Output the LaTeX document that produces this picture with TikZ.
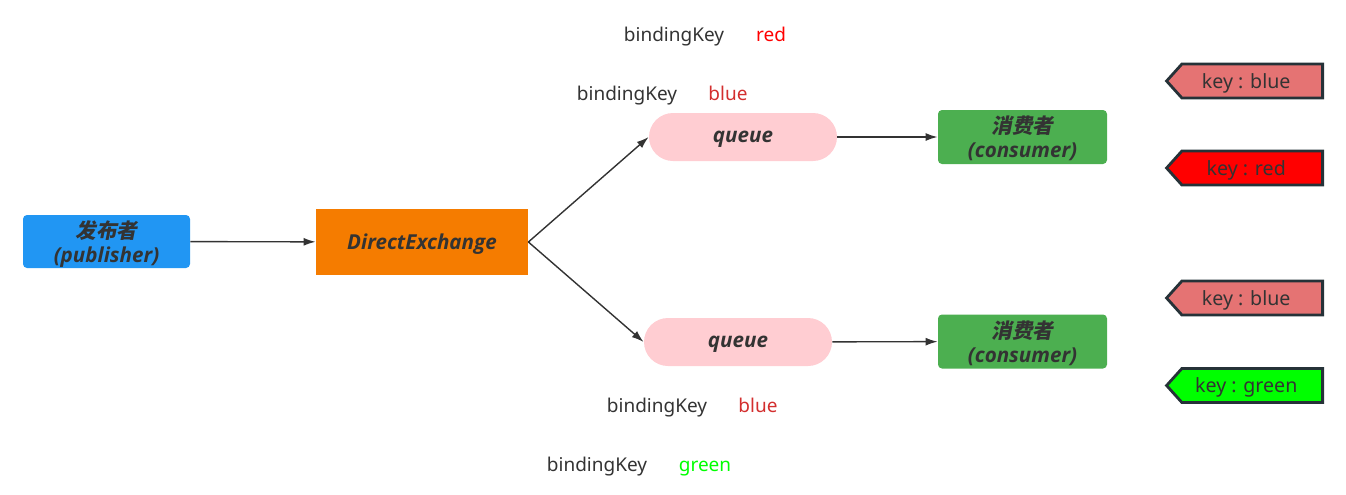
\documentclass[tikz,border=0pt]{standalone}
\usepackage{fontspec}
\setmainfont{Noto Sans}
\newfontfamily\boxfont{Open Sans}
\newfontfamily\cjk{Noto Sans CJK SC}[FakeSlant=0.2]
\usetikzlibrary{arrows.meta,positioning,shapes.symbols}
\definecolor{txt}{HTML}{333333}
\definecolor{pubblue}{HTML}{2196F3}
\definecolor{exorange}{HTML}{F57C00}
\definecolor{qpink}{HTML}{FFCDD2}
\definecolor{congreen}{HTML}{4CAF50}
\definecolor{tagline}{HTML}{263238}
\definecolor{tagblue}{HTML}{E57373}
\definecolor{keyblue}{HTML}{D32F2F}
\definecolor{keyred}{HTML}{FF0000}
\definecolor{keygreen}{HTML}{00FF00}
\tikzset{
  box/.style={font=\boxfont\fontsize{10.3}{12}\selectfont\bfseries\itshape, text=txt,
    align=center, inner sep=0pt, text depth=0pt},
  pubbox/.style={box, fill=pubblue, rounded corners=2pt,
    minimum width=83.5pt, minimum height=26.5pt},
  exbox/.style={box, fill=exorange, minimum width=106pt, minimum height=33pt},
  qbox/.style={box, fill=qpink, rounded corners=12pt,
    minimum width=94pt, minimum height=24pt},
  conbox/.style={box, fill=congreen, rounded corners=2pt,
    minimum width=84.5pt, minimum height=27pt},
  keytag/.style={signal, signal to=west, signal pointer angle=96,
    draw=tagline, line width=1.4pt, minimum width=78pt, minimum height=17pt,
    inner sep=0pt, text depth=0pt, text=txt, font=\fontsize{9.8}{11}\selectfont,
    anchor=east, execute at end node=\hspace*{6pt}},
  bind/.style={text=txt, font=\fontsize{9.5}{11}\selectfont, inner sep=0pt, anchor=base},
  link/.style={-{Latex[length=6pt,width=4pt]}, draw=txt, line width=0.7pt}
}
\begin{document}
\begin{tikzpicture}[x=0.5pt,y=-0.5pt]
    \useasboundingbox (0,0) rectangle (1346,494);

    % publisher and exchange
    \node[pubbox] (pub) at (106.5,241.5) {{\cjk\upshape\bfseries 发布者}\\(publisher)};
    \node[exbox] (ex) at (422,242) {DirectExchange};

    % queues and consumers
    \node[qbox] (q1) at (743,137) {queue};
    \node[qbox] (q2) at (738,342) {queue};
    \node[conbox] (c1) at (1022.5,137) {{\cjk\upshape\bfseries 消费者}\\(consumer)};
    \node[conbox] (c2) at (1022.5,341.5) {{\cjk\upshape\bfseries 消费者}\\(consumer)};

    \draw[link] (pub) -- (ex);
    \draw[link] (ex.east) -- (q1.west);
    \draw[link] (ex.east) -- (q2.west);
    \draw[link] (q1) -- (c1);
    \draw[link] (q2) -- (c2);

    % binding keys
    \node[bind] (b1) at (674,41.5) {bindingKey};
    \node[bind, text=keyred] (b1v) at (771,41.5) {red};
    \node[bind] (b2) at (627,100) {bindingKey};
    \node[bind, text=keyblue] (b2v) at (728,100) {blue};
    \node[bind] (b3) at (657,412.5) {bindingKey};
    \node[bind, text=keyblue] (b3v) at (758,412.5) {blue};
    \node[bind] (b4) at (597,471.5) {bindingKey};
    \node[bind, text=keygreen] (b4v) at (705,471.5) {green};

    % routing keys
    \node[keytag, fill=tagblue] (k1) at (1324,81) {key : blue};
    \node[keytag, fill=keyred] (k2) at (1324,168) {key : red};
    \node[keytag, fill=tagblue] (k3) at (1324,298) {key : blue};
    \node[keytag, fill=keygreen] (k4) at (1324,385.5) {key : green};
  \end{tikzpicture}
\end{document}
